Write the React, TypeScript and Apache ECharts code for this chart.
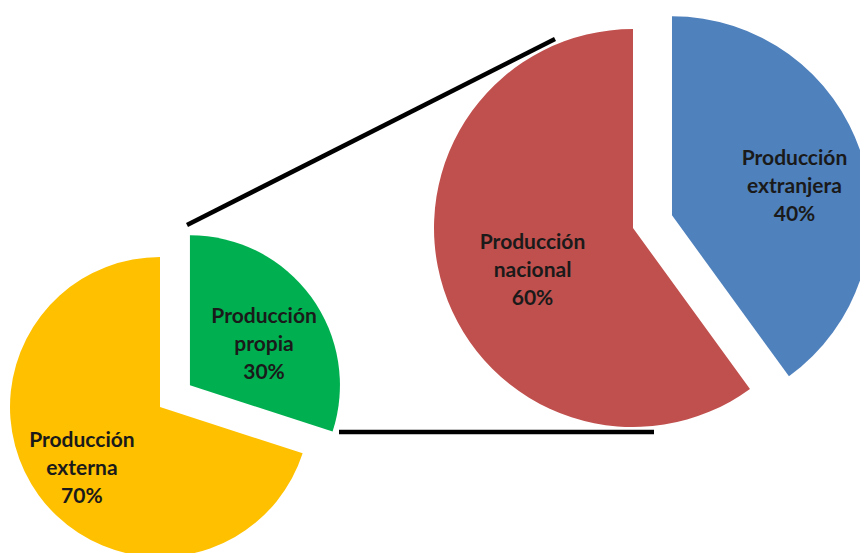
import React, { useEffect, useRef } from "react";
import * as echarts from "echarts";

const leftNames = ["Producción propia", "Producción externa"];
const leftValues = [30, 70];
const leftColors = ["#00B050", "#FFC000"];
const leftSelected = [true, false];
const leftOffsets = [[11, 3], [-15, 14]];

const rightNames = ["Producción extranjera", "Producción nacional"];
const rightValues = [40, 60];
const rightColors = ["#4F81BD", "#C0504D"];
const rightSelected = [true, false];
const rightOffsets = [[25, 1], [-3, 9]];

const labelStyle = {
  show: true,
  position: "inside",
  fontFamily: "Lato, 'Liberation Sans', sans-serif",
  fontWeight: "bold",
  fontSize: 21,
  lineHeight: 28,
  color: "#1a1a1a",
  align: "center",
  formatter: (p: any) => p.name.replace(" ", "\n") + "\n" + Math.round(p.percent) + "%",
};

function buildData(names: string[], values: number[], colors: string[], sel: boolean[], offs: number[][]) {
  return names.map((n, i) => ({
    name: n,
    value: values[i],
    selected: sel[i],
    itemStyle: { color: colors[i] },
    label: { offset: offs[i] },
    select: { itemStyle: { color: colors[i] }, label: { offset: offs[i] } },
  }));
}

export default function App() {
  const ref = useRef<HTMLDivElement>(null);
  useEffect(() => {
    if (!ref.current) return;
    const chart = echarts.init(ref.current, null, { renderer: "svg" });
    chart.setOption({
      animation: false,
      backgroundColor: "#ffffff",
      graphic: [
        {
          type: "line",
          shape: { x1: 187, y1: 225, x2: 555, y2: 39 },
          style: { stroke: "#000000", lineWidth: 4.5 },
          z: 10,
        },
        {
          type: "line",
          shape: { x1: 339, y1: 432, x2: 654, y2: 432 },
          style: { stroke: "#000000", lineWidth: 4.5 },
          z: 10,
        },
      ],
      series: [
        {
          type: "pie",
          center: [160, 407],
          radius: 150,
          startAngle: 90,
          clockwise: true,
          selectedMode: "single",
          selectedOffset: 37,
          emphasis: { disabled: true },
          labelLine: { show: false },
          label: labelStyle,
          data: buildData(leftNames, leftValues, leftColors, leftSelected, leftOffsets),
        },
        {
          type: "pie",
          center: [633, 228],
          radius: 199,
          startAngle: 90,
          clockwise: true,
          selectedMode: "single",
          selectedOffset: 41,
          emphasis: { disabled: true },
          labelLine: { show: false },
          label: labelStyle,
          data: buildData(rightNames, rightValues, rightColors, rightSelected, rightOffsets),
        },
      ],
    });
    return () => chart.dispose();
  }, []);
  return (
    <div
      ref={ref}
      style={{ position: "fixed", left: 0, top: 0, width: 860, height: 553 }}
    />
  );
}
